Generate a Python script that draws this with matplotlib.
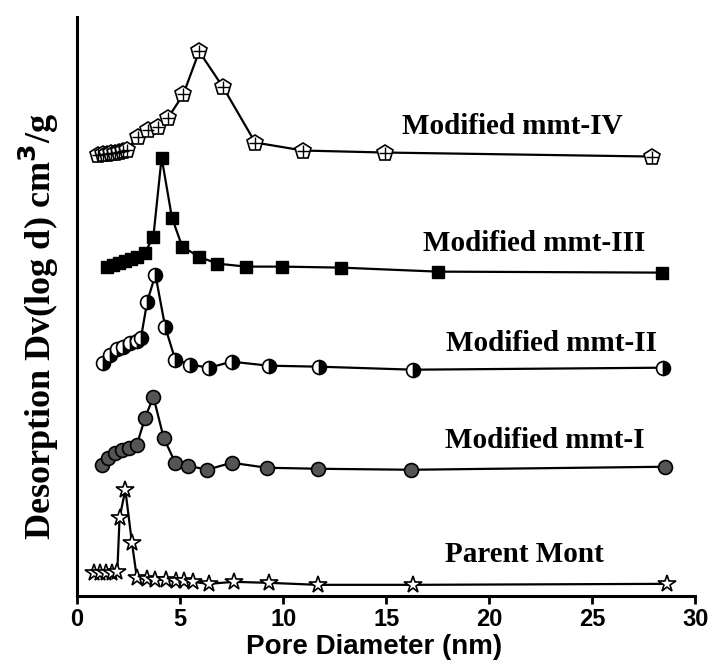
import matplotlib.pyplot as plt

# pore diameter (nm) and desorption Dv(log d), stacked offsets in arbitrary units
x_iv = [1.0, 1.26, 1.46, 1.65, 1.84, 2.04, 2.23, 2.43, 2.96, 3.45, 3.93, 4.42,
        5.15, 5.92, 7.09, 8.64, 10.97, 14.95, 27.9]
y_iv = [441, 442, 442, 443, 443, 444, 445, 446, 459, 466, 469, 478,
        501, 544, 508, 453, 445, 443, 439]

x_iii = [1.46, 1.75, 2.04, 2.33, 2.62, 2.91, 3.3, 3.7, 4.1, 4.6, 5.1, 5.9,
         6.8, 8.2, 9.95, 12.8, 17.5, 28.4]
y_iii = [329, 331, 333, 335, 337, 339, 343, 359, 438, 378, 349, 339,
         332, 329, 329, 328, 324, 323]

x_ii = [1.26, 1.6, 1.94, 2.23, 2.57, 2.9, 3.1, 3.4, 3.8, 4.27, 4.76, 5.5,
        6.4, 7.5, 9.3, 11.75, 16.3, 28.45]
y_ii = [233, 241, 247, 249, 253, 255, 258, 294, 321, 269, 236, 231,
        228, 234, 230, 229, 226, 228]

x_i = [1.2, 1.5, 1.85, 2.2, 2.5, 2.9, 3.3, 3.7, 4.2, 4.76, 5.4, 6.3,
       7.5, 9.2, 11.7, 16.2, 28.5]
y_i = [131, 138, 143, 146, 148, 151, 178, 199, 158, 133, 130, 126,
       133, 128, 127, 126, 129]

x_pm = [0.8, 1.1, 1.4, 1.7, 1.95, 2.06, 2.34, 2.66, 2.9, 3.4, 3.8, 4.3,
        4.8, 5.2, 5.6, 6.4, 7.6, 9.3, 11.7, 16.3, 28.6]
y_pm = [23, 23, 23, 23, 24, 78, 106, 53, 18, 17, 16, 16,
        15, 15, 14, 12, 14, 13, 11, 11, 12]

labels = ["Modified mmt-IV", "Modified mmt-III", "Modified mmt-II",
          "Modified mmt-I", "Parent Mont"]
label_x = [21.1, 22.2, 23.0, 22.7, 21.7]
label_y = [469, 352, 252, 155, 41]

fig = plt.figure(figsize=(7.14, 6.71), dpi=100)
ax = fig.add_axes([0.108, 0.112, 0.866, 0.862])

lw = 1.6
ms = 10
# IV: open pentagon with a cross
ax.plot(x_iv, y_iv, "-", color="black", lw=lw, marker="p", ms=ms + 2,
        mfc="white", mec="black", mew=1.2)
ax.plot(x_iv, y_iv, "none", marker="+", ms=ms - 1, mec="black", mew=1.0)
# III: filled squares
ax.plot(x_iii, y_iii, "-", color="black", lw=lw, marker="s", ms=ms - 1,
        mfc="black", mec="black")
# II: half filled circles
ax.plot(x_ii, y_ii, "-", color="black", lw=lw, marker="o", ms=ms,
        fillstyle="right", mfc="black", mfcalt="white", mec="black", mew=1.2)
# I: grey spheres
ax.plot(x_i, y_i, "-", color="black", lw=lw, marker="o", ms=ms,
        mfc="#555555", mec="black", mew=1.2)
# Parent: open stars
ax.plot(x_pm, y_pm, "-", color="black", lw=lw, marker="*", ms=ms + 3,
        mfc="white", mec="black", mew=1.2)

for t, tx, ty in zip(labels, label_x, label_y):
    ax.text(tx, ty, t, ha="center", va="center", fontsize=21,
            family="Liberation Serif", fontweight="bold")

ax.set_xlim(0, 30)
ax.set_ylim(0, 578)
ax.set_xticks([0, 5, 10, 15, 20, 25, 30])
ax.set_yticks([])
ax.spines["top"].set_visible(False)
ax.spines["right"].set_visible(False)
ax.spines["left"].set_linewidth(2.2)
ax.spines["bottom"].set_linewidth(2.2)
ax.tick_params(axis="x", direction="out", length=6, width=2, pad=3)
for lab in ax.get_xticklabels():
    lab.set_family("Liberation Sans")
    lab.set_fontweight("bold")
    lab.set_fontsize(17)

ax.set_xlabel("Pore Diameter (nm)", family="Liberation Sans",
              fontweight="bold", fontsize=20)
ax.xaxis.set_label_coords(0.48, -0.066)
ax.set_ylabel(r"Desorption Dv(log d) cm$^{\mathbf{3}}$/g", family="Liberation Serif",
              fontweight="bold", fontsize=26)
ax.yaxis.set_label_coords(-0.026, 0.465)

fig.savefig("out.png", dpi=100)
